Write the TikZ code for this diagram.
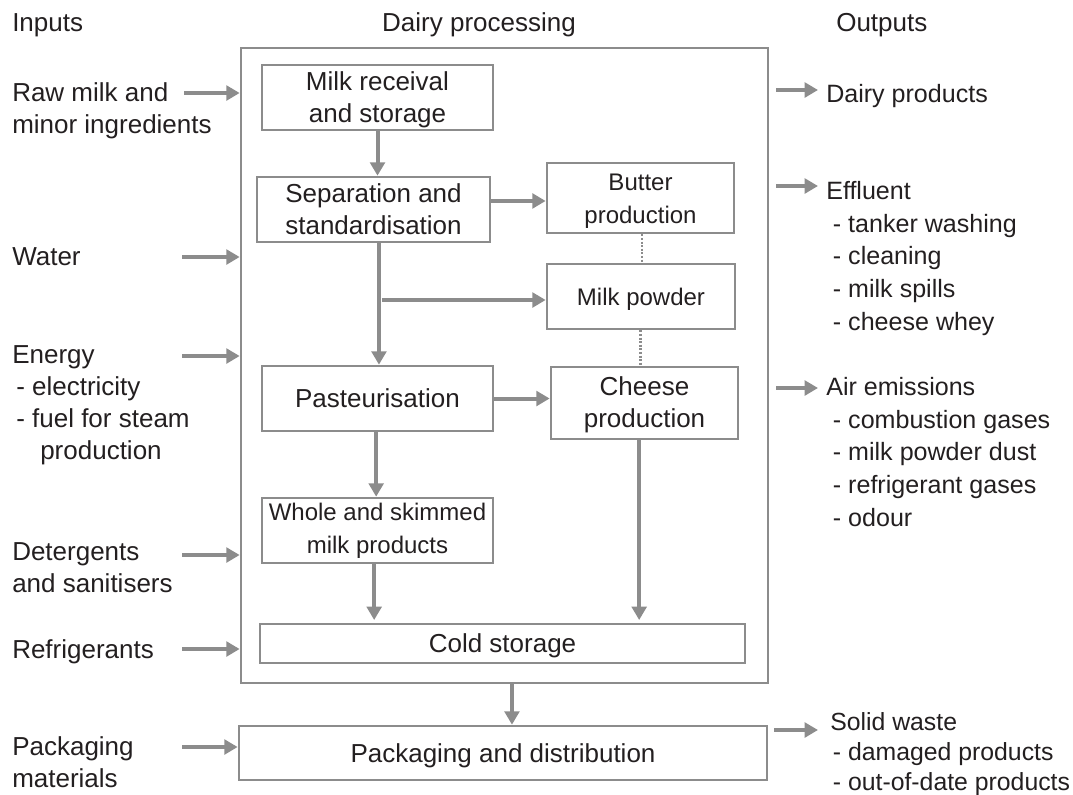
\documentclass[tikz,border=0pt]{standalone}
\usepackage{fontspec}
\setmainfont{Liberation Sans}
\usetikzlibrary{arrows.meta}
\definecolor{lg}{RGB}{140,140,140}
\definecolor{txt}{RGB}{35,31,32}
\begin{document}
\begin{tikzpicture}[x=0.75pt,y=-0.75pt,
  every node/.style={text=txt,font=\fontsize{19.5}{24}\selectfont},
  box/.style={draw=lg,line width=2pt,inner sep=0pt,align=center},
  onebox/.style={box,text height=14pt,text depth=0pt},
  smallbox/.style={box,font=\fontsize{18}{24.5}\selectfont},
  arr/.style={draw=lg,line width=3pt,-{Triangle[length=10pt,width=11pt]}},
  dots/.style={draw=lg,line width=2pt,dash pattern=on 1.5pt off 1.2pt},
  lab/.style={anchor=base west,align=left,inner sep=0pt},
  rlab/.style={lab,font=\fontsize{18.8}{24.5}\selectfont}]
\useasboundingbox (0,0) rectangle (1073,794);
% headings
\node[lab] (hin) at (12,31) {Inputs};
\node[anchor=base,inner sep=0pt] (hdp) at (479,31) {Dairy processing};
\node[lab] (hout) at (836,31) {Outputs};
% big box
\node[box,minimum width=395.25pt,minimum height=476.25pt] (big) at (504.5,365.5) {};
% process boxes
\node[box,minimum width=173.25pt,minimum height=48.75pt] (mr) at (377.5,97.5) {\strut Milk receival\\and storage};
\node[box,minimum width=174.75pt,minimum height=48.75pt] (sep) at (373.5,209.5) {Separation and\\standardisation};
\node[smallbox,minimum width=140.25pt,minimum height=52.5pt] (but) at (640.5,198) {\strut Butter\\production};
\node[smallbox,onebox,minimum width=141pt,minimum height=48.75pt] (mp) at (641,296.5) {Milk powder};
\node[onebox,minimum width=173.25pt,minimum height=48.75pt] (past) at (377.5,398.5) {Pasteurisation};
\node[box,minimum width=140.25pt,minimum height=54pt] (chz) at (644.5,403) {\strut Cheese\\production};
\node[smallbox,minimum width=173.25pt,minimum height=48.75pt] (whole) at (377.5,530.5) {Whole and skimmed\\milk products};
\node[onebox,minimum width=363.75pt,minimum height=29.25pt] (cold) at (502.5,643.5) {Cold storage};
\node[onebox,minimum width=396pt,minimum height=40.5pt] (pack) at (503,753) {Packaging and distribution};
% internal connectors
\draw[arr] (mr.south) -- (mr.south |- sep.north);
\coordinate (s1) at ([yshift=6.4pt]sep.east);
\draw[arr] (s1) -- (s1 -| but.west);
\coordinate (s2) at ([xshift=4.1pt]sep.south);
\draw[arr] (s2) -- (s2 |- past.north);
\coordinate (br) at (382,300);
\draw[arr] (br) -- (br -| mp.west);
\draw[arr] (past.east) -- (past.east -| chz.west);
\coordinate (p1) at ([xshift=-1pt]past.south);
\draw[arr] (p1) -- (p1 |- whole.north);
\coordinate (w1) at ([xshift=-2.5pt]whole.south);
\draw[arr,shorten >=2pt] (w1) -- (w1 |- cold.north);
\coordinate (c1) at ([xshift=-4pt]chz.south);
\draw[arr,shorten >=2pt] (c1) -- (c1 |- cold.north);
\coordinate (b1) at ([xshift=5.6pt]big.south);
\draw[arr] (b1) -- (b1 |- pack.north);
\coordinate (d1) at ([xshift=1pt]but.south);
\draw[dots] (d1) -- (d1 |- mp.north);
\coordinate (d2) at ([xshift=-0.5pt]mp.south);
\draw[dots] (d2) -- (d2 |- chz.north);
% inputs (base anchor = baseline of last line)
\node[lab] (in1) at (12,133) {Raw milk and\\minor ingredients};
\node[lab] (in2) at (12,265) {Water};
\node[lab] (in3) at (12,459) {Energy\\\hspace*{3pt}- electricity\\\hspace*{3pt}- fuel for steam\\\hspace*{21pt}production};
\node[lab] (in4) at (12,592) {Detergents\\and sanitisers};
\node[lab] (in5) at (12,658) {Refrigerants};
\node[lab] (in6) at (12,787) {Packaging\\materials};
\coordinate (i1) at (184,93);
\coordinate (i2) at (182,257);
\coordinate (i3) at (182,356);
\coordinate (i4) at (182,555);
\coordinate (i5) at (182,649);
\coordinate (i6) at (182,747);
\draw[arr] (i1) -- (i1 -| big.west);
\draw[arr] (i2) -- (i2 -| big.west);
\draw[arr] (i3) -- (i3 -| big.west);
\draw[arr] (i4) -- (i4 -| big.west);
\draw[arr] (i5) -- (i5 -| big.west);
\draw[arr] (i6) -- (i6 -| pack.west);
% outputs
\node[rlab] (out1) at (826,102) {Dairy products};
\node[rlab] (out2) at (826,330) {Effluent\\\hspace*{5pt}- tanker washing\\\hspace*{5pt}- cleaning\\\hspace*{5pt}- milk spills\\\hspace*{5pt}- cheese whey};
\node[rlab] (out3) at (826,526) {Air emissions\\\hspace*{5pt}- combustion gases\\\hspace*{5pt}- milk powder dust\\\hspace*{5pt}- refrigerant gases\\\hspace*{5pt}- odour};
\node[rlab,font=\fontsize{18.6}{22.2}\selectfont] (out4) at (830,790) {Solid waste\\\hspace*{2pt}- damaged products\\\hspace*{2pt}- out-of-date products};
\coordinate (o1) at (818,90);
\coordinate (o2) at (818,186);
\coordinate (o3) at (818,388);
\coordinate (o4) at (818,730);
\draw[arr,shorten <=5.25pt] (o1 -| big.east) -- (o1);
\draw[arr,shorten <=5.25pt] (o2 -| big.east) -- (o2);
\draw[arr,shorten <=5.25pt] (o3 -| big.east) -- (o3);
\draw[arr,shorten <=4.5pt] (o4 -| pack.east) -- (o4);
\end{tikzpicture}
\end{document}
